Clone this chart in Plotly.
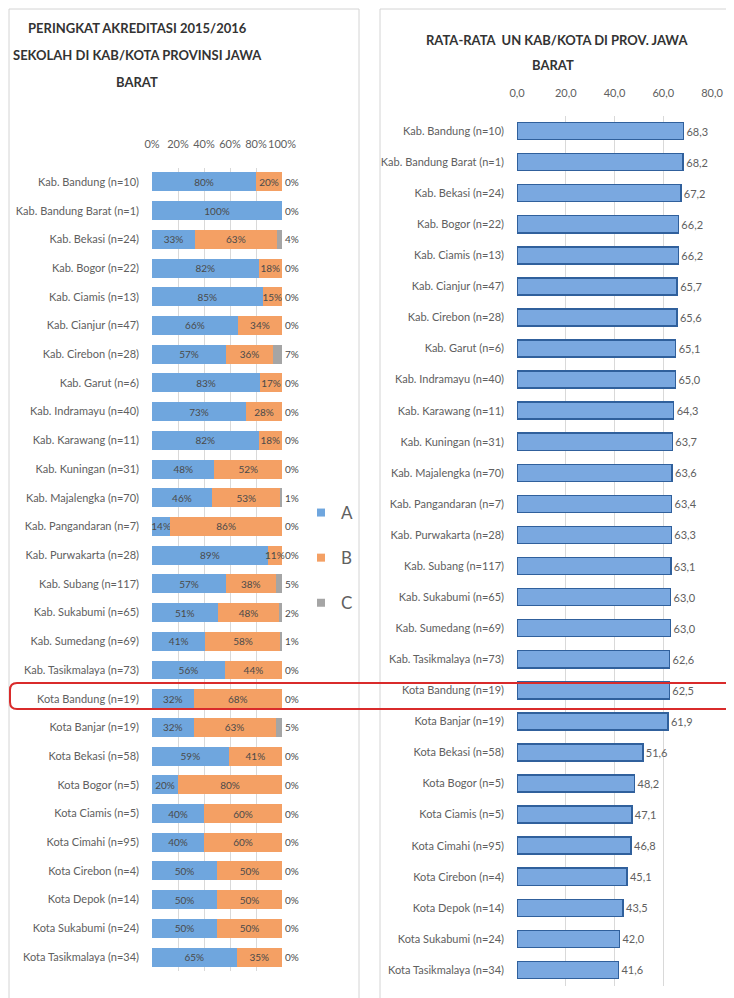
import plotly.graph_objects as go

# page body has an 8px margin: figure is sized to fill the rest of the 734x998 view
OFF = 8
W, H = 734 - OFF, 998 - OFF

categories = [
    "Kab. Bandung (n=10)", "Kab. Bandung Barat (n=1)", "Kab. Bekasi (n=24)",
    "Kab. Bogor (n=22)", "Kab. Ciamis (n=13)", "Kab. Cianjur (n=47)",
    "Kab. Cirebon (n=28)", "Kab. Garut (n=6)", "Kab. Indramayu (n=40)",
    "Kab. Karawang (n=11)", "Kab. Kuningan (n=31)", "Kab. Majalengka (n=70)",
    "Kab. Pangandaran (n=7)", "Kab. Purwakarta (n=28)", "Kab. Subang (n=117)",
    "Kab. Sukabumi (n=65)", "Kab. Sumedang (n=69)", "Kab. Tasikmalaya (n=73)",
    "Kota Bandung (n=19)", "Kota Banjar (n=19)", "Kota Bekasi (n=58)",
    "Kota Bogor (n=5)", "Kota Ciamis (n=5)", "Kota Cimahi (n=95)",
    "Kota Cirebon (n=4)", "Kota Depok (n=14)", "Kota Sukabumi (n=24)",
    "Kota Tasikmalaya (n=34)",
]

akred_A = [80, 100, 33, 82, 85, 66, 57, 83, 73, 82, 48, 46, 14, 89, 57, 51, 41, 56,
           32, 32, 59, 20, 40, 40, 50, 50, 50, 65]
akred_B = [20, 0, 63, 18, 15, 34, 36, 17, 28, 18, 52, 53, 86, 11, 38, 48, 58, 44,
           68, 63, 41, 80, 60, 60, 50, 50, 50, 35]
akred_C = [0, 0, 4, 0, 0, 0, 7, 0, 0, 0, 0, 1, 0, 0, 5, 2, 1, 0,
           0, 5, 0, 0, 0, 0, 0, 0, 0, 0]

un_avg = [68.3, 68.2, 67.2, 66.2, 66.2, 65.7, 65.6, 65.1, 65.0, 64.3, 63.7, 63.6,
          63.4, 63.3, 63.1, 63.0, 63.0, 62.6, 62.5, 61.9, 51.6, 48.2, 47.1, 46.8,
          45.1, 43.5, 42.0, 41.6]

pct_ticks = [0, 20, 40, 60, 80, 100]
pct_ticktext = ["0%", "20%", "40%", "60%", "80%", "100%"]
un_ticks = [0, 20, 40, 60, 80]
un_ticktext = ["0,0", "20,0", "40,0", "60,0", "80,0"]

FONT = "Lato, Roboto, sans-serif"
GRAY = "#606060"


def px_x(p):
    return (p - OFF) / W


def px_y(p):
    return 1 - (p - OFF) / H


# normalise to 100% stacked like Excel
tot = [a + b + c for a, b, c in zip(akred_A, akred_B, akred_C)]
nA = [a / t * 100 for a, t in zip(akred_A, tot)]
nB = [b / t * 100 for b, t in zip(akred_B, tot)]
nC = [c / t * 100 for c, t in zip(akred_C, tot)]

colA, colB, colC = "#6FA6DE", "#F4A064", "#A5A5A5"

fig = go.Figure()
lbl_font = dict(family=FONT, size=10, color="#4a4a4a")
for name, vals, raw, col, pos in [
    ("A", nA, akred_A, colA, "inside"),
    ("B", nB, akred_B, colB, "inside"),
    ("C", nC, akred_C, colC, "outside"),
]:
    fig.add_trace(go.Bar(
        y=categories, x=vals, orientation="h", name=name,
        marker=dict(color=col, line=dict(width=0)),
        text=[f"{v}%" for v in raw], textposition=pos, textangle=0,
        insidetextanchor="middle", constraintext="none",
        textfont=lbl_font, cliponaxis=False, width=0.66,
        xaxis="x", yaxis="y", showlegend=False, hoverinfo="skip",
    ))

# legend proxies
for name, col in [("A", colA), ("B", colB), ("C", colC)]:
    fig.add_trace(go.Scatter(
        x=[None], y=[None], mode="markers", name=name, legendgroup=name,
        marker=dict(symbol="square", size=8, color=col),
        xaxis="x", yaxis="y", showlegend=True,
    ))

fig.add_trace(go.Bar(
    y=categories, x=un_avg, orientation="h",
    marker=dict(color="#7AA8E0", line=dict(color="#30609C", width=1.5)),
    text=[f"{v:.1f}".replace(".", ",") for v in un_avg], textposition="outside",
    textangle=0,
    textfont=dict(family=FONT, size=11, color=GRAY), cliponaxis=False,
    width=0.55, xaxis="x2", yaxis="y2", showlegend=False, hoverinfo="skip",
))

tickfont = dict(family=FONT, size=11, color=GRAY)
axfont = dict(family=FONT, size=11, color=GRAY)

fig.update_layout(
    width=W, height=H, margin=dict(l=0, r=0, t=0, b=0),
    paper_bgcolor="white", plot_bgcolor="white",
    barmode="stack",
    xaxis=dict(domain=[px_x(152), px_x(282)], range=[0, 100], side="top",
               tickvals=pct_ticks, ticktext=pct_ticktext, tickfont=axfont,
               tickangle=0, automargin=False,
               showgrid=True, gridcolor="#d9d9d9", gridwidth=1, zeroline=False,
               showline=False, ticks="", ticklabelstandoff=16, anchor="y",
               fixedrange=True),
    yaxis=dict(domain=[px_y(971.4), px_y(167.6)], type="category",
               autorange="reversed", tickfont=tickfont, ticks="",
               automargin=False,
               ticklabelstandoff=12, showgrid=False, showline=False,
               anchor="x"),
    xaxis2=dict(domain=[px_x(517), px_x(712)], range=[0, 80], side="top",
                tickvals=un_ticks, ticktext=un_ticktext, tickfont=axfont,
                tickangle=0, automargin=False,
                showgrid=True, gridcolor="#d9d9d9", gridwidth=1, zeroline=False,
                showline=False, ticks="", ticklabelstandoff=15, anchor="y2"),
    yaxis2=dict(domain=[px_y(985.5), px_y(115.5)], type="category",
                autorange="reversed", tickfont=tickfont, ticks="",
                automargin=False,
                ticklabelstandoff=12, showgrid=False, showline=False,
                anchor="x2"),
    legend=dict(x=px_x(301), y=px_y(495), xanchor="left", yanchor="top",
                font=dict(family=FONT, size=17, color=GRAY),
                tracegroupgap=20, itemwidth=30, bgcolor="rgba(0,0,0,0)"),
)

title_font = dict(family=FONT, size=13, color="#333333")
for txt, xp, yp in [
    ("<b>PERINGKAT AKREDITASI 2015/2016</b>", 137, 28),
    ("<b>SEKOLAH DI KAB/KOTA PROVINSI JAWA</b>", 137, 55),
    ("<b>BARAT</b>", 137, 82),
    ("<b>RATA-RATA  UN KAB/KOTA DI PROV. JAWA</b>", 557, 40),
    ("<b>BARAT</b>", 553, 65),
]:
    fig.add_annotation(text=txt, x=px_x(xp), y=px_y(yp), xref="paper",
                       yref="paper", showarrow=False, font=title_font,
                       xanchor="center", yanchor="middle")

# panel borders
fig.add_shape(type="rect", xref="paper", yref="paper",
              x0=px_x(9), x1=px_x(359), y0=px_y(1005), y1=px_y(9),
              line=dict(color="#d4d4d4", width=1), layer="below")
fig.add_shape(type="rect", xref="paper", yref="paper",
              x0=px_x(380), x1=px_x(745), y0=px_y(1005), y1=px_y(9),
              line=dict(color="#d4d4d4", width=1), layer="below")

# red highlight box
rx, ry = 7 / W, 7 / H
x0 = px_x(10)
yt, yb = px_y(683), px_y(709)
path = (f"M 1.02,{yt} L {x0 + rx},{yt} Q {x0},{yt} {x0},{yt - ry} "
        f"L {x0},{yb + ry} Q {x0},{yb} {x0 + rx},{yb} L 1.02,{yb}")
fig.add_shape(type="path", xref="paper", yref="paper", path=path,
              line=dict(color="#D92B2B", width=2))

fig.write_html("out.html")
